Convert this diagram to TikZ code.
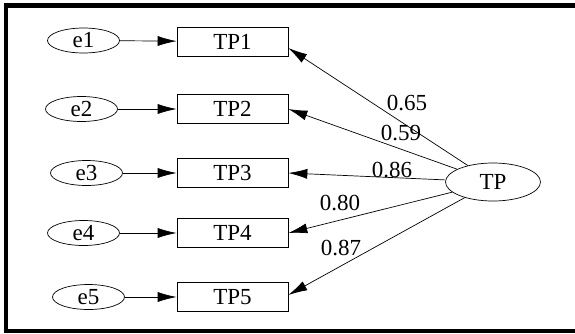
\documentclass[tikz,border=0pt]{standalone}
\usepackage{fontspec}
\setmainfont{Liberation Serif}
\usepackage{tikz}
\usetikzlibrary{shapes, arrows.meta, positioning}
\tikzstyle{observed} = [rectangle, draw=black, minimum width=111pt, minimum height=29pt, inner sep=0]
\tikzstyle{error} = [ellipse, draw=black, minimum width=72pt, minimum height=25pt, inner sep=0]
\tikzstyle{latent} = [ellipse, draw=black, minimum width=95pt, minimum height=38pt, inner sep=0]
\tikzstyle{load} = [-{Latex[length=19pt, width=10pt]}]
\tikzstyle{weight} = [inner sep=0]

\begin{document}
\begin{tikzpicture}[x=1pt, y=-1pt, line width=0.7pt, font=\fontsize{23}{27}\selectfont]
				\useasboundingbox (0, 0) rectangle (575, 333);
				\draw[line width=4.5pt] (575, 5.3) -- (5.8, 5.3) -- (5.8, 330.8) -- (575, 330.8);

				\node (TP1) [observed] at (232.5, 41.5) {TP1};
				\node (TP2) [observed] at (232.5, 109) {TP2};
				\node (TP3) [observed] at (232.5, 173) {TP3};
				\node (TP4) [observed] at (232.5, 233) {TP4};
				\node (TP5) [observed] at (232.5, 297) {TP5};

				\node (e1) [error] at (83.5, 40.5) {e1\hspace{18pt}};
				\node (e2) [error] at (81.5, 109) {e2\hspace{18pt}};
				\node (e3) [error] at (86.5, 173) {e3\hspace{18pt}};
				\node (e4) [error] at (83.5, 233) {e4\hspace{18pt}};
				\node (e5) [error] at (88.5, 297) {e5\hspace{18pt}};
				\draw[load] (e1) -- (TP1);
				\draw[load] (e2) -- (TP2);
				\draw[load] (e3) -- (TP3);
				\draw[load] (e4) -- (TP4);
				\draw[load] (e5) -- (TP5);

				\node (TP) [latent] at (493, 182) {TP};
				\draw[load] (TP) -- ([yshift=-6.5pt]TP1.east);
				\draw[load] (TP) -- (TP2.east);
				\draw[load] (TP) -- (TP3.east);
				\draw[load] (TP) -- (TP4.east);
				\draw[load] (TP) -- ([yshift=2pt]TP5.east);

				\node (w1) [weight] at (407, 103.5) {0.65};
				\node (w2) [weight] at (401, 133.5) {0.59};
				\node (w3) [weight] at (392, 170) {0.86};
				\node (w4) [weight] at (340, 203) {0.80};
				\node (w5) [weight] at (341, 248.5) {0.87};
\end{tikzpicture}
\end{document}
